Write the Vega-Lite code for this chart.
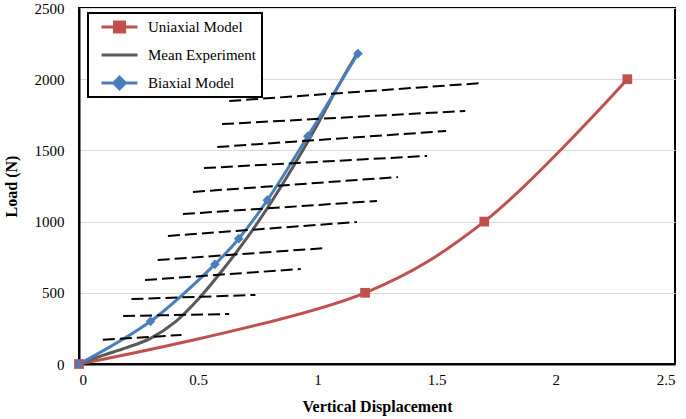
{
  "$schema": "https://vega.github.io/schema/vega-lite/v6.json",
  "autosize": {"type": "none"},
  "width": 596,
  "height": 356,
  "padding": {"left": 79, "top": 8, "right": 11, "bottom": 55},
  "datasets": {
    "curves": [
      {"series": "Uniaxial Model", "x": 0, "y": 0},
      {"series": "Uniaxial Model", "x": 1.2, "y": 500},
      {"series": "Uniaxial Model", "x": 1.7, "y": 1000},
      {"series": "Uniaxial Model", "x": 2.3, "y": 2000},
      {"series": "Mean Experiment", "x": 0, "y": 0},
      {"series": "Mean Experiment", "x": 0.1, "y": 60},
      {"series": "Mean Experiment", "x": 0.2, "y": 115},
      {"series": "Mean Experiment", "x": 0.3, "y": 180},
      {"series": "Mean Experiment", "x": 0.4, "y": 290},
      {"series": "Mean Experiment", "x": 0.5, "y": 455},
      {"series": "Mean Experiment", "x": 0.6, "y": 655},
      {"series": "Mean Experiment", "x": 0.7, "y": 875},
      {"series": "Mean Experiment", "x": 0.8, "y": 1120},
      {"series": "Mean Experiment", "x": 0.9, "y": 1390},
      {"series": "Mean Experiment", "x": 1.0, "y": 1680},
      {"series": "Mean Experiment", "x": 1.1, "y": 1990},
      {"series": "Mean Experiment", "x": 1.165, "y": 2175},
      {"series": "Biaxial Model", "x": 0, "y": 0},
      {"series": "Biaxial Model", "x": 0.3, "y": 300},
      {"series": "Biaxial Model", "x": 0.57, "y": 700},
      {"series": "Biaxial Model", "x": 0.67, "y": 880},
      {"series": "Biaxial Model", "x": 0.79, "y": 1150},
      {"series": "Biaxial Model", "x": 0.96, "y": 1600},
      {"series": "Biaxial Model", "x": 1.17, "y": 2180}
    ],
    "scatter": [
      {"x": 0.1, "y": 170, "x2": 0.43, "y2": 204},
      {"x": 0.185, "y": 337, "x2": 0.63, "y2": 351},
      {"x": 0.22, "y": 456, "x2": 0.74, "y2": 485},
      {"x": 0.277, "y": 590, "x2": 0.93, "y2": 667},
      {"x": 0.33, "y": 730, "x2": 1.04, "y2": 815},
      {"x": 0.373, "y": 899, "x2": 1.166, "y2": 997},
      {"x": 0.436, "y": 1053, "x2": 1.25, "y2": 1145},
      {"x": 0.478, "y": 1208, "x2": 1.338, "y2": 1313},
      {"x": 0.524, "y": 1376, "x2": 1.46, "y2": 1461},
      {"x": 0.58, "y": 1524, "x2": 1.54, "y2": 1636},
      {"x": 0.6, "y": 1685, "x2": 1.62, "y2": 1777},
      {"x": 0.63, "y": 1847, "x2": 1.69, "y2": 1973}
    ]
  },
  "encoding": {
    "x": {
      "field": "x",
      "type": "quantitative",
      "title": "Vertical Displacement",
      "scale": {"domain": [0, 2.5], "nice": false},
      "axis": {
        "values": [0, 0.5, 1, 1.5, 2, 2.5],
        "labelExpr": "datum.value",
        "grid": false,
        "labelPadding": 8,
        "titlePadding": 11
      }
    },
    "y": {
      "field": "y",
      "type": "quantitative",
      "title": "Load (N)",
      "scale": {"domain": [0, 2500], "nice": false},
      "axis": {
        "values": [0, 500, 1000, 1500, 2000, 2500],
        "format": "d",
        "grid": true,
        "labelPadding": 15,
        "titlePadding": 15
      }
    }
  },
  "layer": [
    {
      "data": {"name": "curves"},
      "mark": {"type": "line", "interpolate": "catmull-rom", "strokeWidth": 3},
      "encoding": {
        "color": {
          "field": "series",
          "type": "nominal",
          "scale": {
            "domain": ["Uniaxial Model", "Mean Experiment", "Biaxial Model"],
            "range": ["#C0504D", "#595959", "#4A7EBB"]
          },
          "legend": {
            "title": null,
            "orient": "none",
            "legendX": 9,
            "legendY": 5,
            "padding": 6,
            "strokeColor": "black",
            "fillColor": "white",
            "labelFont": "Liberation Serif",
            "labelFontSize": 15,
            "labelColor": "black",
            "labelOffset": 9,
            "rowPadding": 12,
            "clipHeight": 16,
            "symbolOffset": 6,
            "symbolSize": 1296,
            "encode": {
              "symbols": {
                "update": {
                  "shape": {"signal": "datum.value === 'Uniaxial Model' ? 'M-1,0L1,0M-0.28,-0.28L0.28,-0.28L0.28,0.28L-0.28,0.28Z' : datum.value === 'Biaxial Model' ? 'M-1,0L1,0M-0.32,0L0,-0.32L0.32,0L0,0.32Z' : 'M-1,0L1,0'"},
                  "fill": {"signal": "scale('color', datum.value)"},
                  "stroke": {"signal": "scale('color', datum.value)"},
                  "strokeWidth": {"value": 3},
                  "opacity": {"value": 1}
                }
              }
            }
          }
        }
      }
    },
    {
      "data": {"name": "curves"},
      "transform": [{"filter": "datum.series !== 'Mean Experiment'"}],
      "mark": {"type": "point", "filled": true, "size": 95, "opacity": 1},
      "encoding": {
        "color": {"field": "series", "type": "nominal"},
        "shape": {
          "field": "series",
          "type": "nominal",
          "scale": {"domain": ["Uniaxial Model", "Biaxial Model"], "range": ["square", "diamond"]},
          "legend": null
        }
      }
    },
    {
      "data": {"name": "scatter"},
      "mark": {"type": "rule", "color": "black", "strokeWidth": 2, "strokeDash": [12, 5]},
      "encoding": {
        "x2": {"field": "x2"},
        "y2": {"field": "y2"}
      }
    }
  ],
  "config": {
    "font": "Liberation Serif",
    "view": {"stroke": "black", "strokeWidth": 2},
    "legend": {"strokeWidth": 2},
    "axis": {
      "labelFont": "Liberation Serif",
      "labelFontSize": 15,
      "labelColor": "black",
      "titleFont": "Liberation Serif",
      "titleFontSize": 16,
      "titleFontWeight": "bold",
      "titleColor": "black",
      "ticks": false,
      "domainColor": "black",
      "domainWidth": 2,
      "gridColor": "#D9D9D9",
      "gridWidth": 1
    }
  }
}
